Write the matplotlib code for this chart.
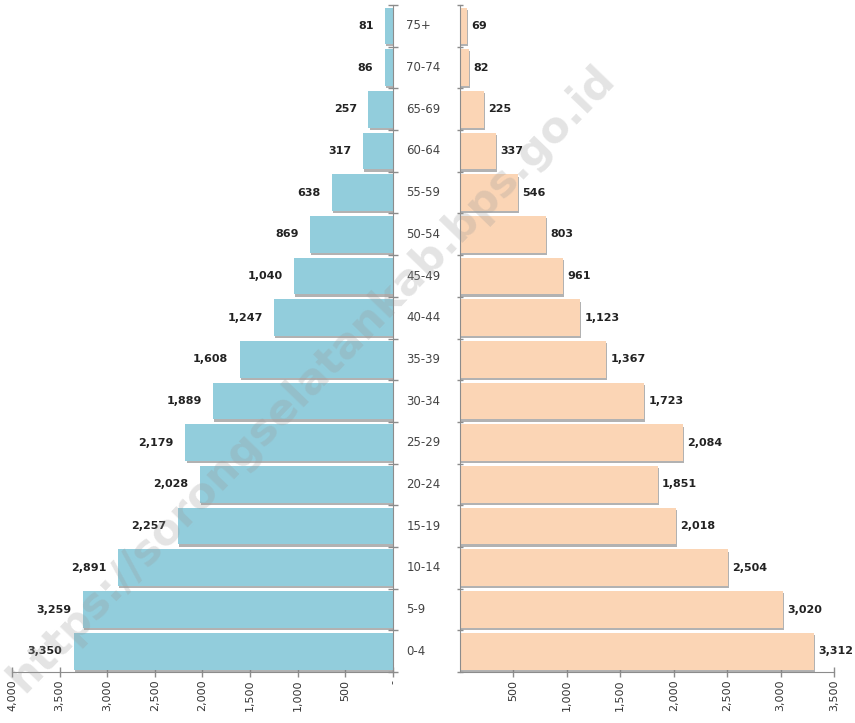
import numpy as np
import matplotlib.pyplot as plt
import matplotlib.patheffects as pe
from matplotlib.ticker import FixedLocator

ages = ['0-4', '5-9', '10-14', '15-19', '20-24', '25-29', '30-34', '35-39', '40-44',
        '45-49', '50-54', '55-59', '60-64', '65-69', '70-74', '75+']
male = [3350, 3259, 2891, 2257, 2028, 2179, 1889, 1608, 1247, 1040, 869, 638, 317, 257, 86, 81]
female = [3312, 3020, 2504, 2018, 1851, 2084, 1723, 1367, 1123, 961, 803, 546, 337, 225, 82, 69]
left_ticks = [4000, 3500, 3000, 2500, 2000, 1500, 1000, 500, 0]
right_ticks = [500, 1000, 1500, 2000, 2500, 3000, 3500]

blue = '#92cddc'
peach = '#fbd5b5'
spine_c = '#8c8c8c'
shadow = [pe.SimplePatchShadow(offset=(0.8, -1.6), shadow_rgbFace='#808080', alpha=0.6), pe.Normal()]

fig = plt.figure(figsize=(8.55, 7.23), dpi=100)
axl = fig.add_axes([0.014, 0.0705, 0.4456, 0.9225])
axr = fig.add_axes([0.538, 0.0705, 0.4375, 0.9225])
axr.patch.set_visible(False)

y = np.arange(len(ages))
n = len(ages)

axl.barh(y, male, height=0.88, color=blue, path_effects=shadow, zorder=2)
axr.barh(y, female, height=0.88, color=peach, path_effects=shadow, zorder=2)

axl.set_xlim(4000, 0)
axr.set_xlim(0, 3500)
for ax in (axl, axr):
    ax.set_ylim(-0.5, n - 0.5)
    ax.spines['top'].set_visible(False)
    for s in ax.spines.values():
        s.set_color(spine_c)
    ax.yaxis.set_major_locator(FixedLocator(np.arange(-0.5, n, 1.0)))
    ax.set_yticklabels([])
    ax.tick_params(axis='both', direction='inout', length=7, color=spine_c, width=1)
    ax.tick_params(axis='x', labelrotation=90, labelsize=8, labelcolor='#333333', pad=2)

axl.spines['left'].set_visible(False)
axl.yaxis.tick_right()
axr.spines['right'].set_visible(False)
axr.tick_params(axis='y', length=4)

axl.set_xticks(left_ticks)
axl.set_xticklabels(['{:,}'.format(v) if v > 0 else '-' for v in left_ticks])
axr.set_xticks(right_ticks)
axr.set_xticklabels(['{:,}'.format(v) for v in right_ticks])

for yi, v in zip(y, male):
    axl.text(v + 120, yi, '{:,}'.format(v), ha='right', va='center', fontsize=8,
             fontweight='bold', color='#222222', zorder=12)
for yi, v in zip(y, female):
    axr.text(v + 40, yi, '{:,}'.format(v), ha='left', va='center', fontsize=8,
             fontweight='bold', color='#222222', zorder=12)

for yi, a in zip(y, ages):
    axl.text(-140, yi, a, ha='left', va='center', fontsize=8.5, color='#444444',
             clip_on=False)

# watermark (lives on the right axes so it is drawn over both panels)
axr.text(0.364, 0.476, 'https://sorongselatankab.bps.go.id', transform=fig.transFigure,
         rotation=46, fontsize=31, fontweight='bold', color='#9a9a9a', alpha=0.27,
         ha='center', va='center', zorder=10, clip_on=False)

fig.savefig('out.png', dpi=100)
